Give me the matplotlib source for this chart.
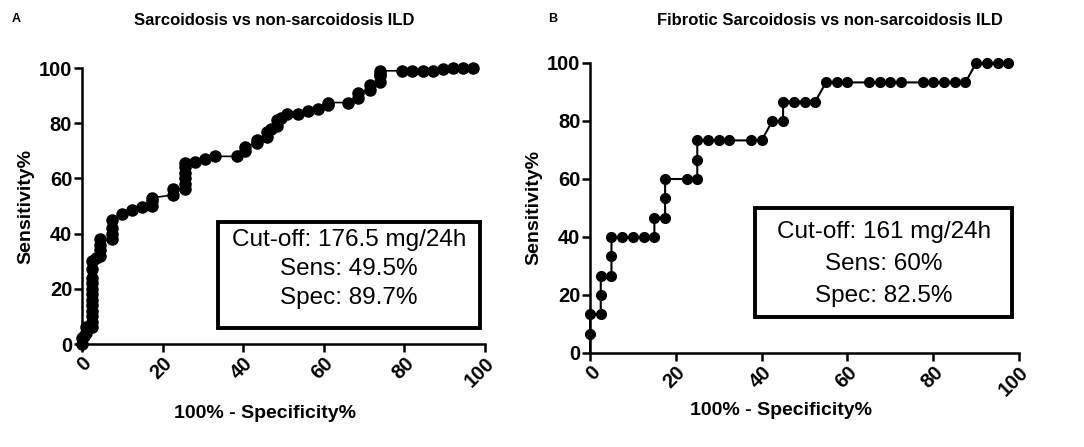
import matplotlib
matplotlib.use("Agg")
import matplotlib.pyplot as plt
from matplotlib.patches import Rectangle

# panel A: sarcoidosis vs non-sarcoidosis ILD
sarc_x = [0, 0, 0.5, 1, 1,
          2.5, 2.5, 2.5, 2.5, 2.5, 2.5, 2.5, 2.5, 2.5, 2.5, 2.5, 2.5,
          3.5, 4.5, 4.5, 4.5, 4.5, 7.5, 7.5, 7.5, 7.5, 10, 12.5, 15,
          17.5, 17.5, 17.5, 22.5, 22.5, 25.5, 25.5, 25.5, 25.5, 25.5, 25.5,
          28, 30.5, 33, 38.5, 40.5, 40.5, 43.5, 43.5, 46, 46, 47,
          48.5, 48.5, 49.5, 51, 53.5, 56, 58.5, 61, 61, 66, 68.5, 68.5,
          71.5, 71.5, 74, 74, 74, 74, 79.5, 82, 84.5, 87, 89.5, 92, 94.5, 97]
sarc_y = [0, 2, 3, 4, 6,
          6, 8, 10, 12, 14, 16, 18, 20, 22, 24, 27, 30,
          31, 32, 34, 36, 38, 38, 40, 42, 45, 47, 48.5, 49.5,
          50, 52, 53, 54, 56, 56, 58, 60, 62, 64, 65.5,
          66, 67, 68, 68, 70, 71.5, 73, 74, 75, 77, 78,
          79, 81, 82, 83.5, 83.5, 84.5, 85, 86.5, 87.5, 87.5, 89, 91,
          92, 94, 95, 97, 98, 99, 99, 99, 99, 99, 99.5, 100, 100, 100]

# panel B: fibrotic sarcoidosis vs non-sarcoidosis ILD
fib_x = [0, 0, 0, 2.5, 2.5, 2.5, 5, 5, 5, 7.5, 10, 12.5, 15, 15,
         17.5, 17.5, 17.5, 22.5, 25, 25, 25, 27.5, 30, 32.5, 37.5, 40,
         42.5, 45, 45, 47.5, 50, 52.5, 55, 57.5, 60, 65, 67.5, 70, 72.5,
         77.5, 80, 82.5, 85, 87.5, 90, 92.5, 95, 97.5]
fib_y = [0, 6.67, 13.3, 13.3, 20, 26.7, 26.7, 33.3, 40, 40, 40, 40, 40, 46.7,
         46.7, 53.3, 60, 60, 60, 66.7, 73.3, 73.3, 73.3, 73.3, 73.3, 73.3,
         80, 80, 86.7, 86.7, 86.7, 86.7, 93.3, 93.3, 93.3, 93.3, 93.3, 93.3, 93.3,
         93.3, 93.3, 93.3, 93.3, 93.3, 100, 100, 100, 100]

ticks = [0, 20, 40, 60, 80, 100]
box_a = ["Cut-off: 176.5 mg/24h", "Sens: 49.5%", "Spec: 89.7%"]
box_b = ["Cut-off: 161 mg/24h", "Sens: 60%", "Spec: 82.5%"]

plt.rcParams["font.family"] = ["Liberation Sans", "DejaVu Sans"]


def style_axes(ax, xlab_x, xlab_y):
    ax.set_xlim(0, 100)
    ax.set_ylim(0, 100)
    ax.spines["top"].set_visible(False)
    ax.spines["right"].set_visible(False)
    for s in ("left", "bottom"):
        ax.spines[s].set_linewidth(1.8)
    ax.set_xticks(ticks)
    ax.set_yticks(ticks)
    ax.tick_params(width=1.8, length=6, labelsize=14.5, pad=1)
    for lab in ax.get_yticklabels():
        lab.set_fontweight("bold")
    ax.set_xticklabels([str(t) for t in ticks], rotation=45, ha="right",
                       va="top", rotation_mode="anchor", fontweight="bold")
    ax.set_xlabel("100% - Specificity%", fontsize=14, fontweight="bold")
    ax.xaxis.set_label_coords(xlab_x, xlab_y)
    ax.set_ylabel("Sensitivity%", fontsize=14, fontweight="bold", labelpad=3)


def draw_box(ax, x0, y0, x1, y1, lines, ys):
    ax.add_patch(Rectangle((x0, y0), x1 - x0, y1 - y0, transform=ax.transAxes,
                           fill=False, lw=2.8, ec="black", clip_on=False))
    for txt, yy in zip(lines, ys):
        ax.text((x0 + x1) / 2, yy, txt, transform=ax.transAxes, ha="center",
                va="center", fontsize=17.5)


fig = plt.figure(figsize=(10.84, 4.47), dpi=100)
ax1 = fig.add_axes([0.0756, 0.2304, 0.3718, 0.6174])
ax2 = fig.add_axes([0.5443, 0.2103, 0.3958, 0.6488])

ax1.plot(sarc_x, sarc_y, color="black", lw=1.2, marker="o", ms=8,
         clip_on=False, zorder=3)
ax2.plot(fib_x, fib_y, color="black", lw=1.5, marker="o", ms=7,
         markevery=list(range(1, len(fib_x))), clip_on=False, zorder=3)

style_axes(ax1, 0.454, -0.22)
style_axes(ax2, 0.445, -0.17)

draw_box(ax1, 0.337, 0.058, 0.988, 0.442, box_a, [0.377, 0.271, 0.165])
draw_box(ax2, 0.385, 0.124, 0.984, 0.5, box_b, [0.417, 0.308, 0.198])

fig.text(0.253, 0.955, "Sarcoidosis vs non-sarcoidosis ILD", ha="center",
         va="center", fontsize=12, fontweight="bold")
fig.text(0.766, 0.955, "Fibrotic Sarcoidosis vs non-sarcoidosis ILD", ha="center",
         va="center", fontsize=12, fontweight="bold")
fig.text(0.011, 0.957, "A", fontsize=9, fontweight="bold", va="center")
fig.text(0.506, 0.957, "B", fontsize=9, fontweight="bold", va="center")

fig.savefig("out.png", dpi=100)
plt.close()
